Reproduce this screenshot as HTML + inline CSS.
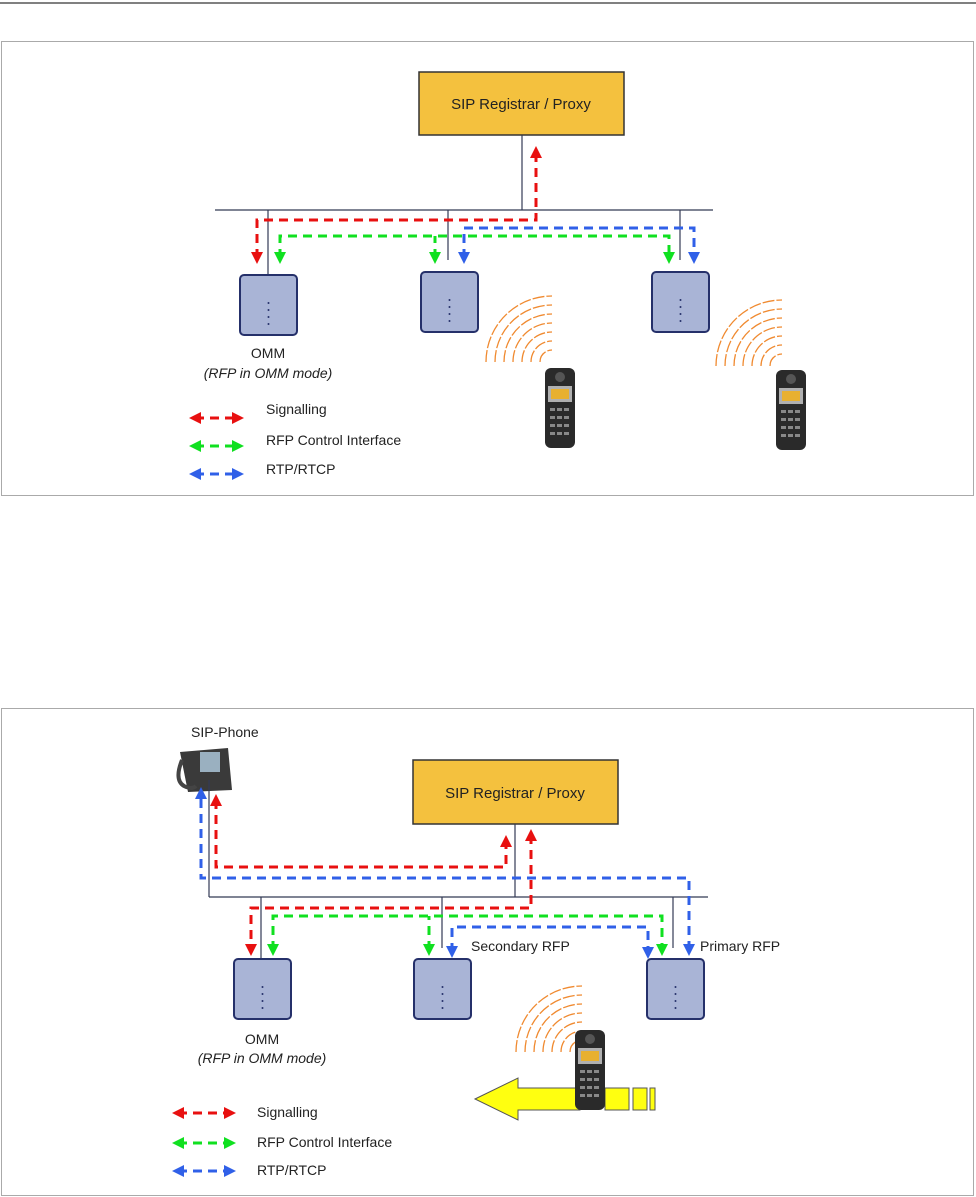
<!DOCTYPE html>
<html><head><meta charset="utf-8"><style>
html,body{margin:0;padding:0;background:#fff;}
svg{display:block;font-family:"Liberation Sans",sans-serif;}
</style></head><body>
<svg width="976" height="1197" viewBox="0 0 976 1197" xmlns="http://www.w3.org/2000/svg">
<defs>
<marker id="r" markerWidth="4" markerHeight="4" refX="2" refY="2" orient="auto-start-reverse" markerUnits="strokeWidth"><path d="M0,0 L4,2 L0,4z" fill="#e81010"/></marker>
<marker id="g" markerWidth="4" markerHeight="4" refX="2" refY="2" orient="auto-start-reverse" markerUnits="strokeWidth"><path d="M0,0 L4,2 L0,4z" fill="#10e020"/></marker>
<marker id="b" markerWidth="4" markerHeight="4" refX="2" refY="2" orient="auto-start-reverse" markerUnits="strokeWidth"><path d="M0,0 L4,2 L0,4z" fill="#3060e8"/></marker>
<g id="rfp"><rect x="0" y="0" width="57" height="60" rx="4" fill="#a9b4d6" stroke="#25306a" stroke-width="2"/><g fill="#25306a"><circle cx="28.5" cy="28" r="1"/><circle cx="28.5" cy="35" r="1"/><circle cx="28.5" cy="42" r="1"/><circle cx="28.5" cy="49" r="1"/></g></g>
<g id="waves" fill="none" stroke="#f08a30" stroke-width="1.3" stroke-dasharray="12 2">
<path d="M0,0 m-12,0 a12,12 0 0 1 12,-12"/><path d="M0,0 m-21,0 a21,21 0 0 1 21,-21"/><path d="M0,0 m-30,0 a30,30 0 0 1 30,-30"/><path d="M0,0 m-39,0 a39,39 0 0 1 39,-39"/><path d="M0,0 m-48,0 a48,48 0 0 1 48,-48"/><path d="M0,0 m-57,0 a57,57 0 0 1 57,-57"/><path d="M0,0 m-66,0 a66,66 0 0 1 66,-66"/></g>
<g id="hs"><rect x="0" y="0" width="30" height="80" rx="6" fill="#2a2a2a"/><rect x="3" y="18" width="24" height="16" fill="#b0b0b0"/><rect x="6" y="21" width="18" height="10" fill="#e8b030"/><circle cx="15" cy="9" r="5" fill="#555"/><g fill="#888"><rect x="5" y="40" width="5" height="3"/><rect x="12" y="40" width="5" height="3"/><rect x="19" y="40" width="5" height="3"/><rect x="5" y="48" width="5" height="3"/><rect x="12" y="48" width="5" height="3"/><rect x="19" y="48" width="5" height="3"/><rect x="5" y="56" width="5" height="3"/><rect x="12" y="56" width="5" height="3"/><rect x="19" y="56" width="5" height="3"/><rect x="5" y="64" width="5" height="3"/><rect x="12" y="64" width="5" height="3"/><rect x="19" y="64" width="5" height="3"/></g></g>
</defs>
<line x1="0" y1="3" x2="976" y2="3" stroke="#000" stroke-width="1"/>
<!-- Diagram 1 -->
<rect x="1.5" y="41.5" width="972" height="454" fill="none" stroke="#aaa"/>
<rect x="419" y="72" width="205" height="63" fill="#f4c13e" stroke="#333" stroke-width="1.5"/>
<text x="521" y="109" font-size="15" text-anchor="middle" fill="#222">SIP Registrar / Proxy</text>
<g stroke="#333a55" stroke-width="1.2" fill="none">
<line x1="522" y1="135" x2="522" y2="210"/><line x1="215" y1="210" x2="713" y2="210"/>
<line x1="268" y1="210" x2="268" y2="275"/><line x1="448" y1="210" x2="448" y2="260"/><line x1="680" y1="210" x2="680" y2="260"/></g>
<g fill="none" stroke-width="3" stroke-dasharray="9 6">
<path d="M257,258 V220 H536 V152" stroke="#e81010" marker-end="url(#r)" marker-start="url(#r)" />
<path d="M280,258 V236 H669 V258" stroke="#10e020" marker-end="url(#g)" marker-start="url(#g)"/>
<path d="M435,258 V236" stroke="#10e020" marker-start="url(#g)"/>
<path d="M464,258 V228 H694 V258" stroke="#3060e8" marker-end="url(#b)" marker-start="url(#b)"/>
</g>
<use href="#rfp" x="240" y="275"/><use href="#rfp" x="421" y="272"/><use href="#rfp" x="652" y="272"/>
<text x="268" y="358" font-size="14" text-anchor="middle" fill="#222">OMM</text>
<text x="268" y="378" font-size="14" text-anchor="middle" font-style="italic" fill="#222">(RFP in OMM mode)</text>
<use href="#waves" x="552" y="362"/><use href="#hs" x="545" y="368"/>
<use href="#waves" x="782" y="366"/><use href="#hs" x="776" y="370"/>
<g stroke-width="3" stroke-dasharray="9 6" fill="none">
<line x1="195" y1="418" x2="238" y2="418" stroke="#e81010" marker-start="url(#r)" marker-end="url(#r)"/>
<line x1="195" y1="446" x2="238" y2="446" stroke="#10e020" marker-start="url(#g)" marker-end="url(#g)"/>
<line x1="195" y1="474" x2="238" y2="474" stroke="#3060e8" marker-start="url(#b)" marker-end="url(#b)"/></g>
<g font-size="14" fill="#222"><text x="266" y="414">Signalling</text><text x="266" y="445">RFP Control Interface</text><text x="266" y="474">RTP/RTCP</text></g>
<!-- Diagram 2 -->
<rect x="1.5" y="708.5" width="972" height="487" fill="none" stroke="#aaa"/>
<text x="191" y="737" font-size="14" fill="#222">SIP-Phone</text>
<g><path d="M180,752 L228,748 L232,790 L188,792 Z" fill="#3a3a3a"/><rect x="200" y="752" width="20" height="20" fill="#9ab0c0"/><path d="M182,760 q-8,20 2,26 q8,4 12,0" fill="none" stroke="#444" stroke-width="4"/></g>
<rect x="413" y="760" width="205" height="64" fill="#f4c13e" stroke="#333" stroke-width="1.5"/>
<text x="515" y="798" font-size="15" text-anchor="middle" fill="#222">SIP Registrar / Proxy</text>
<g stroke="#333a55" stroke-width="1.2" fill="none">
<line x1="515" y1="824" x2="515" y2="897"/><line x1="209" y1="780" x2="209" y2="897"/><line x1="209" y1="897" x2="708" y2="897"/>
<line x1="261" y1="897" x2="261" y2="960"/><line x1="442" y1="897" x2="442" y2="948"/><line x1="673" y1="897" x2="673" y2="948"/></g>
<g fill="none" stroke-width="3" stroke-dasharray="9 6">
<path d="M689,950 V878 H201 V793" stroke="#3060e8" marker-end="url(#b)" marker-start="url(#b)"/>
<path d="M216,800 V867 H506 V841" stroke="#e81010" marker-end="url(#r)" marker-start="url(#r)"/>
<path d="M531,835 V908 H251 V950" stroke="#e81010" marker-end="url(#r)" marker-start="url(#r)"/>
<path d="M273,950 V916 H662 V950" stroke="#10e020" marker-end="url(#g)" marker-start="url(#g)"/>
<path d="M429,950 V916" stroke="#10e020" marker-start="url(#g)"/>
<path d="M452,952 V927 H648 V953" stroke="#3060e8" marker-end="url(#b)" marker-start="url(#b)"/>
</g>
<use href="#rfp" x="234" y="959"/><use href="#rfp" x="414" y="959"/><use href="#rfp" x="647" y="959"/>
<text x="471" y="951" font-size="14" fill="#222">Secondary RFP</text>
<text x="700" y="951" font-size="14" fill="#222">Primary RFP</text>
<text x="262" y="1044" font-size="14" text-anchor="middle" fill="#222">OMM</text>
<text x="262" y="1063" font-size="14" text-anchor="middle" font-style="italic" fill="#222">(RFP in OMM mode)</text>
<use href="#waves" x="582" y="1052"/>
<path d="M475,1099 L518,1078 L518,1088 L580,1088 L580,1110 L518,1110 L518,1120 Z" fill="#ffff10" stroke="#555" stroke-width="1"/>
<g fill="#ffff10" stroke="#555"><rect x="605" y="1088" width="24" height="22"/><rect x="633" y="1088" width="14" height="22"/><rect x="650" y="1088" width="5" height="22"/></g>
<use href="#hs" x="575" y="1030"/>
<g stroke-width="3" stroke-dasharray="9 6" fill="none">
<line x1="178" y1="1113" x2="230" y2="1113" stroke="#e81010" marker-start="url(#r)" marker-end="url(#r)"/>
<line x1="178" y1="1143" x2="230" y2="1143" stroke="#10e020" marker-start="url(#g)" marker-end="url(#g)"/>
<line x1="178" y1="1171" x2="230" y2="1171" stroke="#3060e8" marker-start="url(#b)" marker-end="url(#b)"/></g>
<g font-size="14" fill="#222"><text x="257" y="1117">Signalling</text><text x="257" y="1147">RFP Control Interface</text><text x="257" y="1175">RTP/RTCP</text></g>
</svg>
</body></html>
